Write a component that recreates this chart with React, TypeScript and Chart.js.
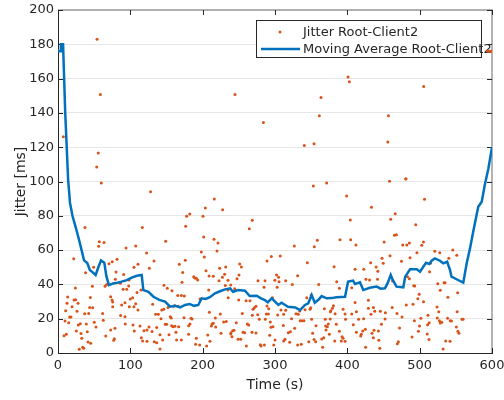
import React, { useEffect, useRef } from "react";
import { Chart, registerables } from "chart.js";

Chart.register(...registerables);

const xTickValues = [0, 100, 200, 300, 400, 500, 600];
const yTickValues = [0, 20, 40, 60, 80, 100, 120, 140, 160, 180, 200];
const seriesNames = ["Jitter Root-Client2", "Moving Average Root-Client2"];

// Jitter samples: [time (s), jitter (ms)]
const jitterPoints: [number, number][] = [
  [54, 182.9], [58.5, 150.8], [7.4, 126.1], [55.7, 116.6], [53.5, 108.5], [0, 176.3], [244.7, 150.8], [283.9, 134.4],
  [401, 160.9], [402.8, 158.2], [363.6, 149], [361.3, 138.3], [340.5, 121], [354, 122], [505.6, 155.4], [456.8, 138.3],
  [456, 123], [480.8, 101.6], [594, 176], [596, 176], [598, 176], [600, 176],
  [59.9, 99.1], [128, 94], [37.3, 73.2], [116.6, 73.2], [57.1, 64.9], [63.6, 64.5], [56.2, 62.2], [94, 61.2], [107.4, 62.4],
  [122.5, 58.3], [21.7, 55], [75, 53.2], [81.6, 54.6], [132.7, 53.6], [70.5, 52], [110.6, 51.7], [105, 50], [49.3, 50],
  [126.3, 49.4], [38.2, 46.8], [80.2, 47.2], [90.8, 45.7], [79.3, 43], [86.2, 40.6], [98.2, 42.6], [24, 37.9], [47.5, 38.9],
  [65, 38.9], [67.3, 40], [90, 37.1], [95, 37.1], [97.7, 39.1], [114.7, 36.7], [109.2, 35.3], [13.4, 32.6], [44.7, 32.4],
  [72.8, 32.8], [74.7, 30.9], [22.1, 30.9], [24.4, 31], [27.7, 29], [12.4, 29], [19.4, 27], [43.8, 26.6], [47.9, 26.4],
  [75.6, 29.7], [88, 28], [92.6, 29.3], [98.6, 27], [105, 27], [107.4, 28.7], [110.6, 25.1], [100, 31.5], [103.2, 32.2],
  [130.9, 28.4], [10.6, 24.7], [26.3, 24.3], [36.9, 22.9], [42.4, 23.1], [61.7, 23.1], [75.6, 27], [86.6, 21.8], [92.6, 21.2],
  [135, 22.6], [138.7, 22.6], [16.1, 21], [17.9, 21], [9.7, 18.7], [14.8, 17.7], [28.1, 16.3], [30.8, 17.1], [39.1, 16.9],
  [50.2, 17.9], [52.5, 15.2], [62.6, 19.1], [72.8, 13.4], [78.8, 14.4], [93, 16.9], [103.7, 16.3], [113.4, 15.7], [125.8, 15.2],
  [136.4, 14.8], [118.9, 13], [123, 13.4], [130, 12.6], [105.5, 12.8], [25.3, 12.8], [40.5, 12.4], [31.8, 11.3], [8.3, 10.1],
  [11.5, 10.9], [32.8, 8.6], [66, 9.9], [77.9, 8.3], [77, 7.4], [41.5, 6.4], [45.2, 5.7], [115.2, 8.9], [133.1, 6.6], [136.4, 6],
  [117, 7], [123, 6.8], [34.1, 3.3], [35.5, 2.7], [29.4, 2.2],
  [216.1, 89.8], [203.7, 84.5], [227.6, 83.6], [182.1, 81], [177.9, 79.7], [200.5, 79.7], [268.6, 77.4], [176.5, 73.9],
  [264.5, 72.5], [201.4, 67.6], [215.7, 66.3], [221.2, 64.1], [148.9, 65.1], [219.8, 59.5], [198.1, 58.9], [202.3, 56],
  [176, 54.1], [167.7, 51.7], [251.2, 51.9], [253.5, 50.1], [223.5, 49.4], [231.8, 50.1], [204.6, 48], [172.4, 47],
  [230.4, 45.9], [187.6, 44.5], [214.7, 44.7], [208.8, 44.9], [250.2, 45.5], [247.5, 43.3], [227.3, 44.1], [189, 43.7],
  [191.2, 43.6], [193.1, 42.6], [222.6, 42.2], [235, 42.4], [171.4, 41.2], [276.5, 42.2], [231.3, 39.3], [238.8, 39.7],
  [146.5, 39.5], [151.1, 37.7], [284.8, 38.3], [208.3, 36.7], [157.6, 36.3], [235, 36.7], [244.3, 37.5], [165.5, 33.6],
  [170.5, 33.6], [174.6, 33.2], [196.3, 31.5], [235.3, 32.2], [249.8, 30.9], [260, 30.5], [265.4, 30.5], [143.4, 25.1],
  [146.2, 25.5], [152.1, 26.6], [159.4, 27.2], [161.3, 27.6], [166.3, 27.2], [273.7, 27.2], [271.4, 26.4], [269.6, 25.5],
  [209.2, 23.7], [224.4, 22.7], [254.8, 23.1], [268.6, 22], [276.1, 22.3], [183.9, 20.2], [185.3, 19.8], [155.3, 21.2],
  [156.6, 20.4], [174.2, 20.6], [217.5, 20.4], [142.4, 20], [278.3, 19.7], [286.6, 19.7], [148.3, 16.7], [150.2, 16.7],
  [157.1, 15.9], [159, 15.3], [161.7, 15.6], [166.8, 15.3], [180.6, 15.9], [182.5, 16.9], [212.9, 16.9], [212, 15.7],
  [214.7, 17.3], [218, 15.2], [229, 18.1], [232.6, 18.3], [246.5, 17.7], [261.7, 16.9], [263.7, 16.3], [141, 10.7],
  [153.5, 10.7], [163.1, 12.1], [180.6, 10.9], [207, 10.5], [225.4, 11.5], [239.2, 11.8], [238.8, 11.1], [241.5, 13],
  [243.3, 13.2], [240.6, 9.5], [255.8, 12.1], [258.1, 11.8], [268.2, 12.1], [273.7, 11.7], [144.7, 7.6], [164, 7.6],
  [170.5, 7.6], [190.3, 5.1], [195.9, 4.7], [191.2, 8.6], [210.1, 6.8], [205.5, 4.1], [248.9, 8], [252.6, 8], [260.4, 4.1],
  [279.7, 4.8], [280.7, 4.1], [285.3, 4.7], [141, 2.3],
  [353, 97.4], [371.4, 99.1], [399, 91.5], [404.1, 77.6], [358.5, 65.7], [354.3, 62], [389.9, 66.1], [404.6, 66.1],
  [411.9, 63], [326.7, 62.4], [294.9, 56.2], [307.3, 56.6], [288.9, 53.6], [344.7, 52.6], [381.7, 50.3], [410.7, 48.8],
  [422.7, 48.8], [302.2, 45.5], [305, 44.1], [331.3, 45.1], [299.8, 42.4], [305.6, 41.6], [314.8, 42.2], [286.2, 42.2],
  [385.3, 41.6], [425.7, 43], [430.7, 42.6], [360.5, 40], [323.9, 40], [389, 37.7], [406.1, 38.1], [303, 38.3],
  [296.5, 32.2], [343.9, 32.2], [349.9, 33.8], [410.7, 29.5], [429.1, 30.7], [380.8, 27.6], [379.4, 26.1], [376.6, 24.1],
  [288.9, 27.4], [291.3, 25.8], [308.3, 25.1], [314.8, 24.9], [334.2, 24.5], [341.5, 25.2], [349.4, 26.4], [368.2, 25.8],
  [394.1, 25.5], [429.1, 26.1], [436, 26.6], [288, 22.7], [290.8, 22.7], [303.7, 22.2], [312, 22.6], [329, 22.9],
  [332.2, 22.6], [348.4, 25.5], [377.2, 24.7], [383.1, 22.9], [396.9, 22.7], [406.1, 22.7], [412.5, 24.1], [432.7, 22.6],
  [293.5, 18.1], [322.9, 20], [334.9, 18.8], [337.2, 18.8], [340, 18.8], [350.6, 19.7], [369.5, 19.7], [376.3, 19.8],
  [384.7, 16.7], [397.6, 19.7], [415.6, 19.7], [422.6, 20], [294.5, 15], [297.2, 15.3], [311.5, 16.1], [327.2, 14.4],
  [356.7, 15.9], [370, 15.7], [372.3, 15.3], [373.7, 16.9], [408.3, 16.5], [412.5, 12.1], [421.3, 12.8], [424.9, 13.8],
  [292.7, 10.3], [318.4, 11.8], [321.2, 12.4], [352.1, 11.5], [370.5, 13.4], [375.1, 10.9], [389, 12.7], [392.7, 9.5],
  [418.5, 9.9], [419.3, 10.9], [300, 7.6], [312, 7], [313.8, 8], [320.3, 6.2], [346.7, 6.6], [354, 7.8], [356.3, 6.6],
  [364.6, 8.2], [367.4, 8.9], [382.6, 7], [391.7, 7], [394.1, 8.6], [396.9, 6.8], [331.3, 4.7], [336.3, 5.1], [365.9, 3.3],
  [425.3, 3.3], [298.3, 4.7],
  [458.3, 100.1], [481, 101.5], [506.7, 89.6], [433.4, 85], [466.2, 81.2], [460, 78], [494.6, 74.8], [465.2, 68.6],
  [467.9, 69], [450.9, 64.7], [476.6, 63], [482.2, 63], [485.8, 64.1], [505.2, 64.7], [502.9, 62.8], [520.9, 59.3],
  [527.8, 58.5], [545.8, 60.1], [496.2, 58.5], [551.3, 57], [448, 55.2], [459, 56.7], [486.7, 55.6], [540.3, 55.2],
  [474.8, 53.5], [432.2, 52.6], [449.6, 52.3], [515.2, 52.5], [439.8, 50.1], [442.2, 47.6], [513.7, 47.4], [441.7, 43],
  [462.5, 42], [483.2, 44.5], [485.8, 43.3], [491.8, 39.2], [493.2, 39.1], [525, 40.4], [533.7, 41], [535.1, 41],
  [528.5, 36.6], [552.5, 35.2], [499.3, 34.2], [497.5, 31.7], [539, 32.5], [505.3, 29.9], [462, 26.6], [481.5, 28],
  [490.8, 28.4], [524, 26.8], [437.9, 24.3], [445.6, 24.3], [452.6, 23.5], [468.7, 23.1], [526.4, 24.1], [551.8, 24.1],
  [475.6, 21], [511.5, 22], [524.4, 20.4], [538.6, 20.2], [558.5, 19.7], [560, 19.7], [452.2, 19.8], [501.7, 20.2],
  [542.3, 18.8], [544, 18.7], [492.7, 18.8], [527.4, 18.8], [530.6, 17.9], [447.2, 16.7], [513.2, 17.7], [528.5, 17.5],
  [499.8, 15.7], [550.7, 15.2], [472.2, 14.6], [511, 16.5], [436.9, 13.2], [442.9, 12.8], [498.3, 12.7], [552.9, 12.7],
  [434.1, 11.5], [554.3, 11.5], [489.5, 9.3], [510.5, 11.1], [436, 8.9], [512.9, 7.8], [536, 7], [542, 6.8], [470.5, 6.6],
  [469.1, 5.4], [443.5, 7.4], [444.9, 2.7], [532.4, 2.3],
];

// Moving average: [time (s), jitter (ms)]
const movingAverage: [number, number][] = [
  [0, 176], [3, 176], [4, 180], [7, 180], [10, 140], [14, 101], [16.6, 87.5], [20, 80], [24, 74], [28, 67.8], [32, 61],
  [36, 54], [40.5, 52.5], [44, 48.4], [48, 47], [52, 45.5], [56, 50.3], [59.5, 54], [64, 52.7], [67, 44.5], [70.5, 39.6],
  [76, 40.5], [82, 41], [88, 41.6], [95, 42.5], [102, 44], [109, 45], [115.7, 45.5], [118, 36.7], [125, 35.7], [132, 32.8],
  [140, 31], [148, 30], [155, 27], [162, 27.5], [169, 26.6], [175.6, 28], [182, 28.6], [188, 27.5], [194, 28], [198.6, 31.9],
  [204, 31.5], [210, 32.5], [217, 34.8], [224, 36], [231, 37.1], [238, 37.7], [242, 35.7], [249, 36.7], [258.5, 36.3],
  [265, 33.2], [274.7, 33.4], [280, 32], [286, 30.9], [290, 29.5], [295.5, 31.9], [300, 30], [304.6, 28], [309, 29.3],
  [318, 27], [328, 26.6], [334.6, 25], [341.5, 28], [346, 29], [350.7, 33.8], [355, 29.3], [360, 31], [364.5, 33.2],
  [371.4, 31.9], [378, 32], [385, 32.5], [396.8, 32.8], [401, 41.6], [408, 42.2], [410.6, 40.2], [417.5, 41.2], [422, 36.7],
  [431, 38], [440.6, 38.7], [446, 37.5], [452, 37.7], [456, 41], [460, 45.5], [462.8, 42.6], [468, 38.7], [477.4, 38.3],
  [480, 44.5], [486.7, 48.8], [496, 48.8], [500.5, 47.4], [505, 50.3], [508.8, 52.6], [513.4, 51.9], [516.6, 53.8],
  [521, 55.2], [528, 53.8], [532.6, 52.3], [538, 53.2], [542, 48.4], [544, 44.5], [551, 43], [560.3, 41], [565, 52.3],
  [569.6, 61], [574, 70.7], [581, 85.3], [585.8, 88.2], [590, 98], [595, 107.6], [600, 120],
];

const ORANGE = "#D95319";
const BLUE = "#0072BD";
const TEXT = "#262626";
const FONT = "'DejaVu Sans', sans-serif";

const framePlugin = {
  id: "frame",
  beforeDatasetsDraw(chart: any) {
    const { ctx, chartArea } = chart;
    const { left, right, top, bottom } = chartArea;
    const xs = chart.scales.x;
    const ys = chart.scales.y;
    ctx.save();
    // top & right box edges
    ctx.strokeStyle = "#9a9a9a";
    ctx.lineWidth = 1.5;
    ctx.beginPath();
    ctx.moveTo(left, top);
    ctx.lineTo(right, top);
    ctx.lineTo(right, bottom);
    ctx.stroke();
    // inward tick marks
    ctx.strokeStyle = TEXT;
    ctx.lineWidth = 1;
    ctx.beginPath();
    xTickValues.forEach((v) => {
      const px = Math.round(xs.getPixelForValue(v)) + 0.5;
      ctx.moveTo(px, bottom);
      ctx.lineTo(px, bottom - 5);
      ctx.moveTo(px, top);
      ctx.lineTo(px, top + 5);
    });
    yTickValues.forEach((v) => {
      const py = Math.round(ys.getPixelForValue(v)) + 0.5;
      ctx.moveTo(left, py);
      ctx.lineTo(left + 5, py);
      ctx.moveTo(right, py);
      ctx.lineTo(right - 5, py);
    });
    ctx.stroke();

    // legend box
    const bx = 256.5, by = 20.5, bw = 225, bh = 37;
    ctx.fillStyle = "#ffffff";
    ctx.fillRect(bx, by, bw, bh);
    ctx.strokeStyle = TEXT;
    ctx.lineWidth = 1;
    ctx.strokeRect(bx, by, bw, bh);
    ctx.fillStyle = ORANGE;
    ctx.beginPath();
    ctx.arc(280, 32, 1.5, 0, Math.PI * 2);
    ctx.fill();
    ctx.strokeStyle = BLUE;
    ctx.lineWidth = 2.5;
    ctx.beginPath();
    ctx.moveTo(261, 49);
    ctx.lineTo(300, 49);
    ctx.stroke();
    ctx.fillStyle = TEXT;
    ctx.font = `13px ${FONT}`;
    ctx.textBaseline = "middle";
    ctx.textAlign = "left";
    ctx.fillText(seriesNames[0], 303, 32.5);
    ctx.fillText(seriesNames[1], 303, 50);
    ctx.restore();
  },
};

export default function App() {
  const canvasRef = useRef<HTMLCanvasElement>(null);

  useEffect(() => {
    if (!canvasRef.current) return;
    const chart = new Chart(canvasRef.current, {
      type: "scatter",
      data: {
        datasets: [
          {
            type: "line",
            label: seriesNames[1],
            data: movingAverage.map(([x, y]) => ({ x, y })),
            borderColor: BLUE,
            backgroundColor: BLUE,
            borderWidth: 2.5,
            pointRadius: 0,
            tension: 0,
            fill: false,
            order: 0,
          },
          {
            type: "scatter",
            label: seriesNames[0],
            data: jitterPoints.map(([x, y]) => ({ x, y })),
            backgroundColor: ORANGE,
            borderColor: ORANGE,
            borderWidth: 0,
            pointRadius: 1.5,
            order: 1,
          },
        ],
      },
      options: {
        animation: false,
        responsive: true,
        maintainAspectRatio: false,
        layout: { padding: { top: 10, right: 12, bottom: 0, left: 0 } },
        plugins: {
          legend: { display: false },
          tooltip: { enabled: false },
        },
        scales: {
          x: {
            type: "linear",
            min: 0,
            max: 600,
            afterBuildTicks: (s: any) => {
              s.ticks = xTickValues.map((v) => ({ value: v }));
            },
            afterFit: (s: any) => {
              s.height = 47;
              s.paddingLeft = 0;
              s.paddingRight = 0;
            },
            grid: { display: false, drawTicks: false },
            border: { display: true, color: TEXT, width: 1 },
            ticks: {
              color: TEXT,
              font: { family: FONT, size: 13 },
              padding: 5,
              maxRotation: 0,
              autoSkip: false,
            },
            title: {
              display: true,
              text: "Time (s)",
              color: TEXT,
              font: { family: FONT, size: 14 },
              padding: { top: 0, bottom: 6 },
            },
          },
          y: {
            type: "linear",
            min: 0,
            max: 200,
            afterBuildTicks: (s: any) => {
              s.ticks = yTickValues.map((v) => ({ value: v }));
            },
            afterFit: (s: any) => {
              s.width = 58;
              s.paddingTop = 0;
              s.paddingBottom = 0;
            },
            grid: { color: "#e6e6e6", drawTicks: false, lineWidth: 1 },
            border: { display: true, color: TEXT, width: 1 },
            ticks: {
              color: TEXT,
              font: { family: FONT, size: 13 },
              padding: 4,
              autoSkip: false,
            },
            title: {
              display: true,
              text: "Jitter [ms]",
              color: TEXT,
              font: { family: FONT, size: 14 },
              padding: { top: 13, bottom: 0 },
            },
          },
        },
      },
      plugins: [framePlugin],
    });
    return () => chart.destroy();
  }, []);

  return (
    <div style={{ position: "absolute", left: 0, top: 0, width: 504, height: 400 }}>
      <canvas ref={canvasRef} />
    </div>
  );
}
